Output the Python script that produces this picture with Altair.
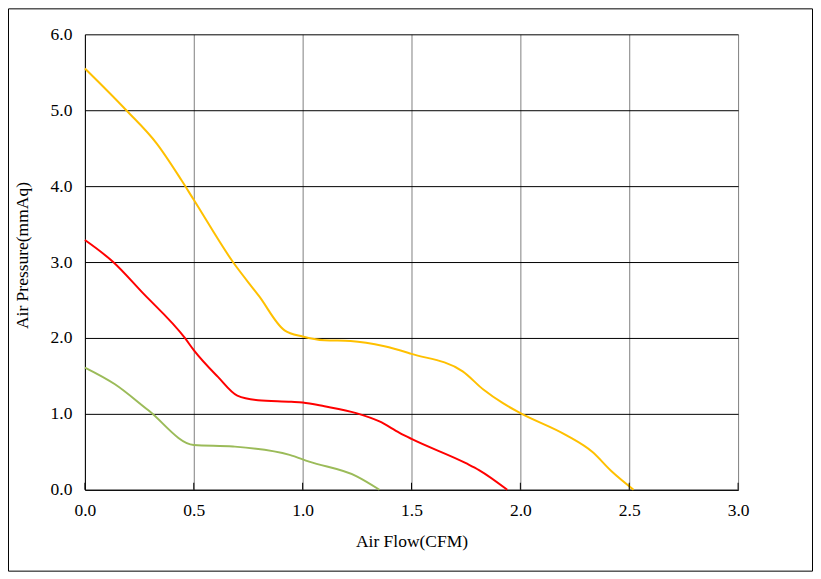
import altair as alt
import pandas as pd

# fan P-Q curves
high_x = [0.0, 0.19, 0.33, 0.443, 0.5, 0.68, 0.80, 0.917, 1.0, 1.10, 1.22, 1.376,
          1.5, 1.735, 1.83, 1.92, 2.0, 2.21, 2.33, 2.42, 2.52]
high_y = [5.55, 5.0, 4.56, 4.08, 3.82, 3.0, 2.55, 2.1, 2.02, 1.97, 1.96, 1.89,
          1.79, 1.56, 1.32, 1.14, 1.01, 0.72, 0.50, 0.24, 0.0]

mid_x = [0.0, 0.13, 0.26, 0.459, 0.5, 0.61, 0.70, 0.795, 0.948, 1.0, 1.10, 1.246,
         1.353, 1.445, 1.5, 1.75, 1.81, 1.94]
mid_y = [3.29, 3.0, 2.61, 2.0, 1.84, 1.49, 1.24, 1.18, 1.16, 1.15, 1.10, 1.01,
         0.90, 0.75, 0.67, 0.35, 0.26, 0.0]

low_x = [0.0, 0.138, 0.29, 0.5, 0.68, 0.94, 1.03, 1.246, 1.353]
low_y = [1.61, 1.39, 1.05, 0.59, 0.57, 0.46, 0.37, 0.18, 0.0]

x_ticks = [0.0, 0.5, 1.0, 1.5, 2.0, 2.5, 3.0]
y_ticks = [0.0, 1.0, 2.0, 3.0, 4.0, 5.0, 6.0]

series = ['high', 'mid', 'low']
colors = ['#FFC000', '#FF0000', '#9BBB59']

frames = []
for name, xs, ys in [('high', high_x, high_y), ('mid', mid_x, mid_y), ('low', low_x, low_y)]:
    frames.append(pd.DataFrame({'flow': xs, 'pressure': ys, 'fan': name}))
df = pd.concat(frames, ignore_index=True)

W, H = 654, 456
FONT = 'Liberation Serif'

x_enc = alt.X(
    'flow:Q',
    title='Air Flow(CFM)',
    scale=alt.Scale(domain=[0, 3], nice=False),
    axis=alt.Axis(values=x_ticks, format='.1f', grid=True, gridColor='#808080',
                  gridWidth=1, ticks=False, tickSize=0, labelPadding=12,
                  labelFlush=False, titlePadding=13, domainColor='black'),
)
y_enc = alt.Y(
    'pressure:Q',
    title='Air Pressure(mmAq)',
    scale=alt.Scale(domain=[0, 6], nice=False),
    axis=alt.Axis(values=y_ticks, format='.1f', grid=True, gridColor='black',
                  gridWidth=1, ticks=False, tickSize=0, labelPadding=13,
                  labelFlush=False, titlePadding=19, titleY=221, domainColor='black'),
)

lines = alt.Chart(df).mark_line(interpolate='monotone', strokeWidth=2).encode(
    x=x_enc,
    y=y_enc,
    color=alt.Color('fan:N', scale=alt.Scale(domain=series, range=colors), legend=None),
    order='flow:Q',
)

# short tick marks pointing up into the plot
ticks = alt.Chart(pd.DataFrame({'flow': x_ticks})).mark_rule(color='black', strokeWidth=1).encode(
    x='flow:Q',
    y=alt.value(H - 7),
    y2=alt.value(H),
)

frame = alt.Chart(pd.DataFrame({'a': [0]})).mark_rect(
    fill=None, stroke='black', strokeWidth=1
).encode(
    x=alt.value(-76.5), x2=alt.value(728.5),
    y=alt.value(-25.5), y2=alt.value(537.5),
)

chart = alt.layer(lines, ticks, frame).properties(
    width=W, height=H,
    autosize=alt.AutoSizeParams(type='none'),
    padding={'left': 77, 'top': 26, 'right': 75, 'bottom': 82},
    background='white',
).configure_view(
    stroke=None
).configure_axis(
    labelFont=FONT, titleFont=FONT,
    labelFontSize=17.5, titleFontSize=17.5,
    labelColor='black', titleColor='black',
    titleFontWeight='normal',
)

chart.save('out.html', embed_options={'renderer': 'svg', 'actions': False})
